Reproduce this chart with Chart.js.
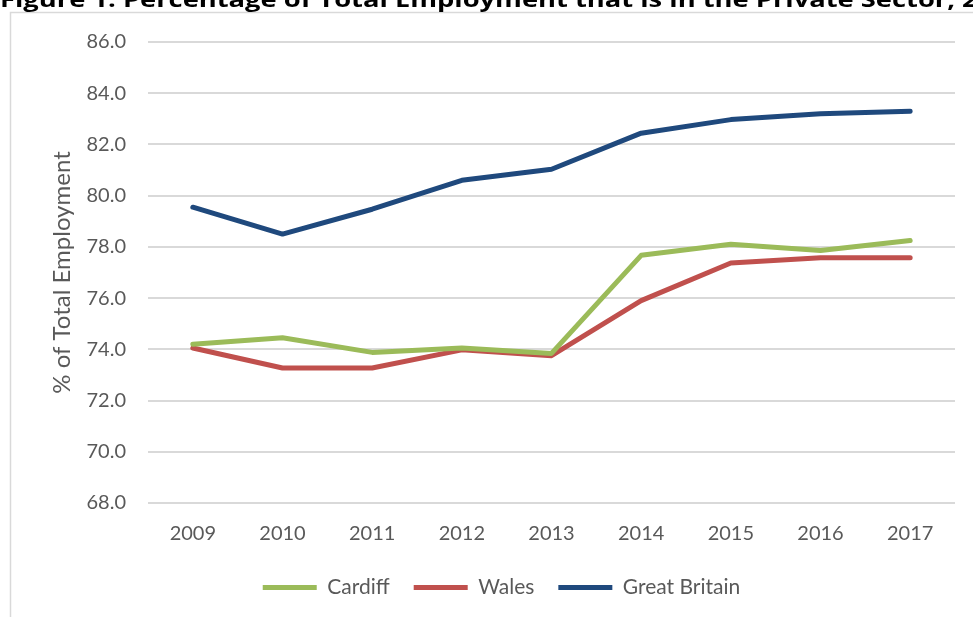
<!DOCTYPE html>
<html>
<head>
<meta charset="utf-8">
<script src="https://cdn.jsdelivr.net/npm/chart.js@4.4.1/dist/chart.umd.min.js"></script>
<style>
  html, body { margin: 0; padding: 0; background: #fff; }
  #wrap { position: relative; width: 973px; height: 617px; }
</style>
</head>
<body>
<div id="wrap"><canvas id="privateSector"></canvas></div>
<script>
const years = ['2009', '2010', '2011', '2012', '2013', '2014', '2015', '2016', '2017']
const cardiff = [74.2, 74.45, 73.88, 74.05, 73.84, 77.67, 78.1, 77.86, 78.25]
const wales = [74.05, 73.27, 73.27, 73.98, 73.75, 75.9, 77.37, 77.58, 77.58]
const greatBritain = [79.55, 78.5, 79.47, 80.6, 81.03, 82.44, 82.97, 83.2, 83.3]
const yTicks = [68, 70, 72, 74, 76, 78, 80, 82, 84, 86]

const figureTitle = 'Figure 1: Percentage of Total Employment that is in the Private Sector, 2009-2017'
const fontFamily = "Lato, 'Liberation Sans', sans-serif"
const textGrey = '#595959'

// frame around the chart + the heading sitting above it
const framePlugin = {
  id: 'frame',
  afterLayout(chart) {
    // legend sits a little right of the plot centre
    chart.legend.left += 19
    chart.legend.right += 19
  },
  beforeDraw(chart) {
    const ctx = chart.ctx
    ctx.save()
    ctx.fillStyle = '#fff'
    ctx.fillRect(0, 0, chart.width, chart.height)
    ctx.strokeStyle = '#D9D9D9'
    ctx.lineWidth = 1.5
    ctx.beginPath()
    ctx.moveTo(10.5, chart.height)
    ctx.lineTo(10.5, 12.5)
    ctx.lineTo(chart.width, 12.5)
    ctx.stroke()

    ctx.fillStyle = '#000'
    ctx.font = "bold 22px 'Open Sans', sans-serif"
    const w = ctx.measureText('Figure 1: Percentage of Total Employment that is in the Private Sector,').width
    ctx.translate(0, 7)
    ctx.scale(955 / w, 1)
    ctx.textBaseline = 'alphabetic'
    ctx.fillText(figureTitle, 0, 0)
    ctx.restore()
  }
}

function series(label, data, color) {
  return {
    label: label,
    data: data,
    borderColor: color,
    backgroundColor: color,
    borderWidth: 5,
    borderCapStyle: 'round',
    borderJoinStyle: 'round',
    pointRadius: 0,
    pointHoverRadius: 0,
    tension: 0,
    pointStyle: 'line'
  }
}

new Chart(document.getElementById('privateSector'), {
  type: 'line',
  data: {
    labels: years,
    datasets: [
      series('Cardiff', cardiff, '#9BBB59'),
      series('Wales', wales, '#C0504D'),
      series('Great Britain', greatBritain, '#1F497D')
    ]
  },
  options: {
    responsive: true,
    maintainAspectRatio: false,
    animation: false,
    layout: {
      padding: { left: 10, top: 42, right: 18, bottom: 9 }
    },
    plugins: {
      tooltip: { enabled: false },
      legend: {
        position: 'bottom',
        labels: {
          usePointStyle: true,
          pointStyleWidth: 54,
          boxHeight: 6,
          padding: 24,
          color: textGrey,
          font: { family: fontFamily, size: 21 }
        }
      }
    },
    scales: {
      x: {
        offset: true,
        grid: { display: false, drawTicks: false },
        border: { display: false },
        ticks: {
          color: textGrey,
          padding: 19,
          maxRotation: 0,
          font: { family: fontFamily, size: 20 }
        },
        afterFit(scale) { scale.height = 50 }
      },
      y: {
        min: 68,
        max: 86,
        afterBuildTicks(scale) {
          scale.ticks = yTicks.map(v => ({ value: v }))
        },
        afterFit(scale) { scale.width = 138 },
        grid: { color: '#D9D9D9', lineWidth: 2, drawTicks: false },
        border: { display: false },
        ticks: {
          color: textGrey,
          padding: 22,
          font: { family: fontFamily, size: 20 },
          callback: v => v.toFixed(1)
        },
        title: {
          display: true,
          text: '% of Total Employment',
          color: textGrey,
          padding: { top: 38, bottom: 0 },
          font: { family: fontFamily, size: 24 }
        }
      }
    }
  },
  plugins: [framePlugin]
})
</script>
</body>
</html>
